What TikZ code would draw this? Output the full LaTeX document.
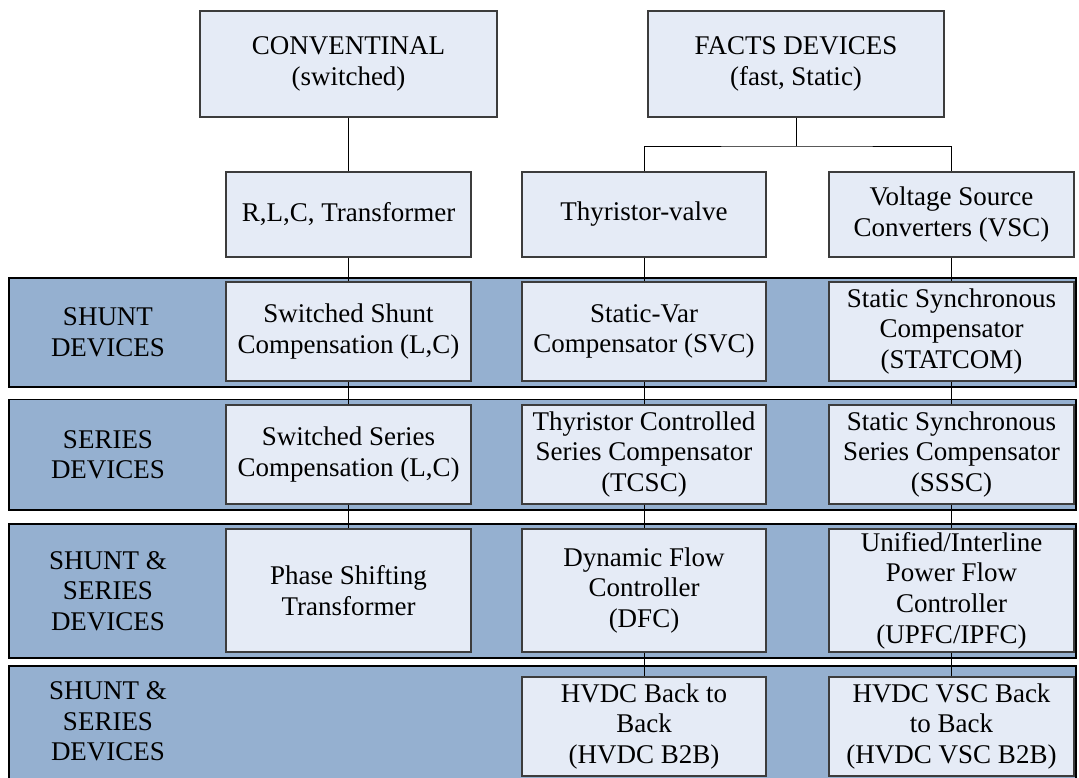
\documentclass[tikz,border=0pt]{standalone}
\usepackage{fontspec}
\setmainfont{Liberation Serif}
\definecolor{bandblue}{RGB}{149,176,208}
\definecolor{boxfill}{RGB}{229,235,246}
\definecolor{boxline}{RGB}{60,60,60}
\begin{document}
\begin{tikzpicture}[x=1pt,y=-1pt,
  box/.style={draw=boxline, line width=1.3pt, fill=boxfill, align=center, inner sep=0pt,
    font=\fontsize{27}{30.7}\selectfont},
  band/.style={draw=black, line width=1.3pt, fill=bandblue},
  bandlabel/.style={align=center, inner sep=0pt, font=\fontsize{27}{30.7}\selectfont},
  conn/.style={draw=black, line width=0.9pt}]
\clip (0,0) rectangle (1079,778);
% bands
\path[band] (9,278) rectangle (1076,387);
\path[band] (9,399.5) rectangle (1076,510);
\path[band] (9,524) rectangle (1076,658);
\path[band] (9,666) rectangle (1076,790);
% band labels
\node[bandlabel] (l1) at (108,332.5) {SHUNT\\DEVICES};
\node[bandlabel] (l2) at (108,454.75) {SERIES\\DEVICES};
\node[bandlabel] (l3) at (108,591) {SHUNT \&\\SERIES\\DEVICES};
\node[bandlabel] (l4) at (108,721.5) {SHUNT \&\\SERIES\\DEVICES};
% top
\node[box, minimum width=297pt, minimum height=106pt] (conv) at (348.5,64) {CONVENTINAL\\(switched)};
\node[box, minimum width=296pt, minimum height=106pt] (facts) at (796,64) {FACTS DEVICES\\(fast, Static)};
% second level
\node[box, minimum width=245pt, minimum height=85pt] (rlc) at (348.5,214.5) {R,L,C, Transformer};
\node[box, minimum width=244pt, minimum height=85pt] (thy) at (644,214.5) {Thyristor-valve};
\node[box, minimum width=245pt, minimum height=85pt] (vsc) at (951.5,214.5) {Voltage Source\\Converters (VSC)};
% row 1
\node[box, minimum width=245pt, minimum height=99pt] (ssc) at (348.5,331.5) {Switched Shunt\\Compensation (L,C)};
\node[box, minimum width=244pt, minimum height=99pt] (svc) at (644,331.5) {Static-Var\\Compensator (SVC)};
\node[box, minimum width=245pt, minimum height=99pt] (statcom) at (951.5,331.5) {Static Synchronous\\Compensator\\(STATCOM)};
% row 2
\node[box, minimum width=245pt, minimum height=99pt] (sser) at (348.5,454.5) {Switched Series\\Compensation (L,C)};
\node[box, minimum width=244pt, minimum height=99pt] (tcsc) at (644,454.5) {Thyristor Controlled\\Series Compensator\\(TCSC)};
\node[box, minimum width=245pt, minimum height=99pt] (sssc) at (951.5,454.5) {Static Synchronous\\Series Compensator\\(SSSC)};
% row 3
\node[box, minimum width=245pt, minimum height=123pt] (pst) at (348.5,590.5) {Phase Shifting\\Transformer};
\node[box, minimum width=244pt, minimum height=123pt] (dfc) at (644,590.5) {Dynamic Flow\\Controller\\(DFC)};
\node[box, minimum width=245pt, minimum height=123pt] (upfc) at (951.5,590.5) {Unified/Interline\\Power Flow\\Controller\\(UPFC/IPFC)};
% row 4
\node[box, minimum width=244pt, minimum height=99pt] (b2b) at (644,726.5) {HVDC Back to\\Back\\(HVDC B2B)};
\node[box, minimum width=245pt, minimum height=99pt] (vb2b) at (951.5,726.5) {HVDC VSC Back\\to Back\\(HVDC VSC B2B)};
% connectors
\coordinate (fj) at (796,146);
\draw[conn] (facts.south) -- (fj);
\draw[conn] (thy.north) |- (fj) -| (vsc.north);
\draw[conn] (conv.south) -- (rlc.north);
\draw[conn] (rlc.south) -- (ssc.north);
\draw[conn] (ssc.south) -- (sser.north);
\draw[conn] (sser.south) -- (pst.north);
\draw[conn] (thy.south) -- (svc.north);
\draw[conn] (svc.south) -- (tcsc.north);
\draw[conn] (tcsc.south) -- (dfc.north);
\draw[conn] (dfc.south) -- (b2b.north);
\draw[conn] (vsc.south) -- (statcom.north);
\draw[conn] (statcom.south) -- (sssc.north);
\draw[conn] (sssc.south) -- (upfc.north);
\draw[conn] (upfc.south) -- (vb2b.north);
\end{tikzpicture}
\end{document}
